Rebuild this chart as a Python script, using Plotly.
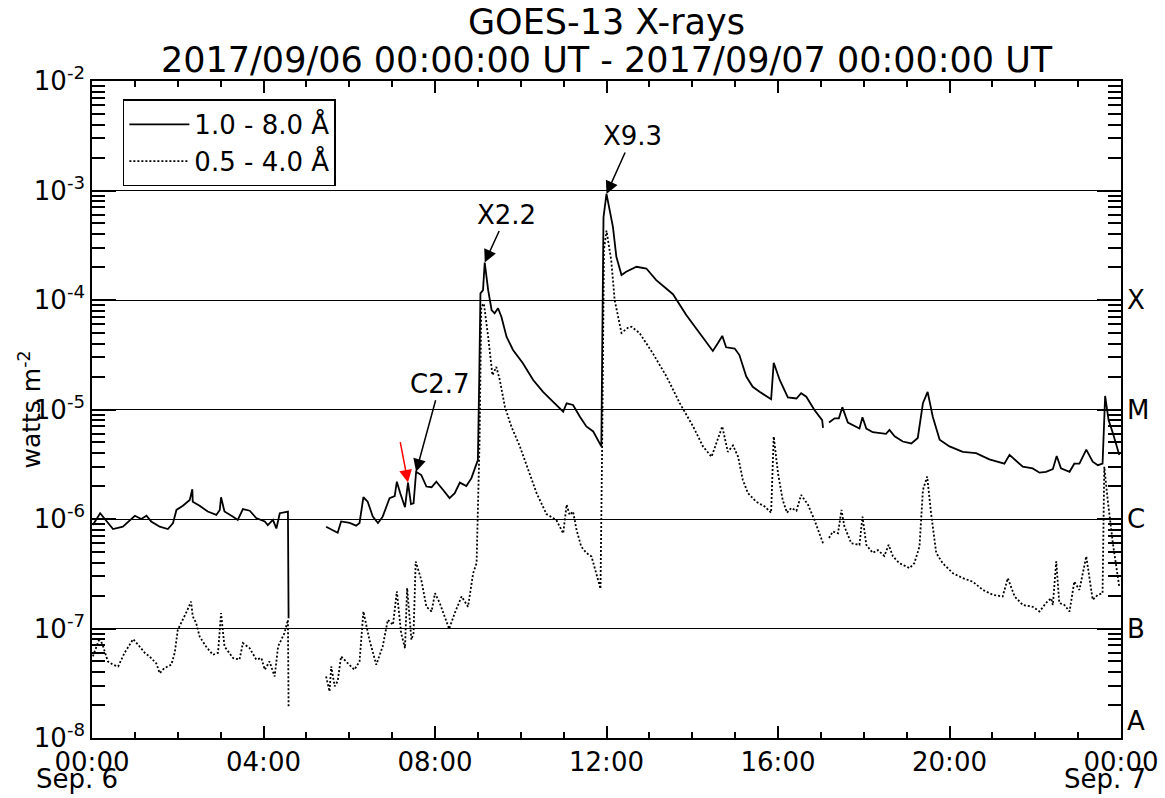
import numpy as np
import pandas as pd
import plotly.graph_objects as go

# ---------------- data (hours after 2017-09-06 00:00 UT, flux in W m^-2) ----------------
LONG_HOURS = [
    0.02, 0.19, 0.49, 0.72, 1.00, 1.15, 1.27, 1.38, 1.58, 1.77, 1.89, 1.97, 2.12, 2.28, 2.34, 2.35,
    2.51, 2.70, 2.90, 2.98, 3.01, 3.09, 3.29, 3.40, 3.52, 3.68, 3.83, 4.03, 4.10, 4.22, 4.30, 4.38,
    4.57, 4.585,
    5.00,
    5.46, 5.58, 5.73, 5.81, 6.01, 6.16, 6.24, 6.33, 6.43, 6.55, 6.67, 6.78, 6.94, 7.06, 7.11, 7.19,
    7.30, 7.37, 7.44, 7.50, 7.56, 7.68, 7.80, 7.92, 8.03, 8.19, 8.34, 8.46, 8.58, 8.73, 8.85, 8.93,
    9.00, 9.03, 9.06, 9.12, 9.16, 9.24, 9.32, 9.39, 9.47, 9.55, 9.67, 9.82, 10.05, 10.29, 10.52,
    10.75, 10.99, 11.07, 11.22, 11.38, 11.53, 11.69, 11.88, 11.90, 11.93, 12.00, 12.15, 12.23,
    12.35, 12.46, 12.70, 12.93, 13.16, 13.55, 13.86, 14.17, 14.48, 14.60, 14.70, 14.79, 14.99,
    15.10, 15.26, 15.41, 15.57, 15.84, 15.90, 16.04, 16.23, 16.43, 16.54, 16.66, 16.85, 17.03,
    17.05,
    17.12,
    17.19, 17.32, 17.42, 17.50, 17.63, 17.79, 17.90, 17.97, 18.06, 18.21, 18.41, 18.52, 18.60,
    18.72, 18.91, 19.11, 19.26, 19.38, 19.49, 19.61, 19.77, 20.00, 20.31, 20.62, 20.93, 21.28,
    21.40, 21.52, 21.71, 21.94, 22.10, 22.25, 22.41, 22.50, 22.60, 22.80, 22.91, 23.03, 23.19,
    23.34, 23.46, 23.57, 23.63, 23.71, 23.81, 23.96,
]
LONG_FLUX = [
    0.88e-6, 1.13e-6, 0.81e-6, 0.85e-6, 1.07e-6, 1.00e-6, 1.07e-6, 0.95e-6, 0.85e-6, 0.81e-6,
    0.92e-6, 1.21e-6, 1.32e-6, 1.49e-6, 1.87e-6, 1.44e-6, 1.32e-6, 1.17e-6, 1.09e-6, 1.21e-6,
    1.58e-6, 1.17e-6, 1.05e-6, 0.98e-6, 1.23e-6, 1.19e-6, 1.02e-6, 0.95e-6, 0.88e-6, 0.98e-6,
    0.82e-6, 1.13e-6, 1.17e-6, 1.24e-7,
    None,
    0.85e-6, 0.80e-6, 0.75e-6, 0.95e-6, 0.92e-6, 0.87e-6, 0.92e-6, 1.58e-6, 1.44e-6, 1.05e-6,
    0.92e-6, 1.05e-6, 1.55e-6, 1.62e-6, 2.19e-6, 1.72e-6, 1.28e-6, 2.15e-6, 1.37e-6, 1.39e-6,
    2.70e-6, 2.52e-6, 1.98e-6, 1.95e-6, 2.19e-6, 1.84e-6, 1.55e-6, 1.72e-6, 2.15e-6, 2.00e-6,
    2.36e-6, 2.90e-6, 3.46e-6, 1.73e-5, 1.15e-4, 1.23e-4, 2.20e-4, 1.23e-4, 0.81e-4, 0.755e-4,
    0.84e-4, 0.70e-4, 0.46e-4, 0.35e-4, 0.264e-4, 0.186e-4, 1.45e-5, 1.18e-5, 0.955e-5, 1.14e-5,
    1.10e-5, 0.86e-5, 0.70e-5, 0.63e-5, 0.46e-5, 0.35e-4, 5.7e-4, 9.3e-4, 4.66e-4, 2.48e-4,
    1.69e-4, 1.81e-4, 2.01e-4, 1.94e-4, 1.52e-4, 1.13e-4, 0.73e-4, 0.50e-4, 0.342e-4, 0.405e-4,
    0.47e-4, 0.37e-4, 0.36e-4, 0.314e-4, 0.20e-4, 0.161e-4, 1.45e-5, 1.24e-5, 2.67e-5, 1.86e-5,
    1.29e-5, 1.26e-5, 1.41e-5, 1.31e-5, 0.99e-5, 0.80e-5, 0.68e-5,
    None,
    0.76e-5, 0.83e-5, 0.83e-5, 1.05e-5, 0.76e-5, 0.70e-5, 0.67e-5, 0.85e-5, 0.67e-5, 0.62e-5,
    0.61e-5, 0.60e-5, 0.65e-5, 0.57e-5, 0.51e-5, 0.49e-5, 0.55e-5, 1.14e-5, 1.45e-5, 0.86e-5,
    0.53e-5, 0.46e-5, 0.41e-5, 0.40e-5, 0.35e-5, 0.32e-5, 0.385e-5, 0.347e-5, 0.30e-5, 0.29e-5,
    0.265e-5, 0.27e-5, 0.285e-5, 0.376e-5, 0.29e-5, 0.27e-5, 0.32e-5, 0.32e-5, 0.43e-5, 0.334e-5,
    0.31e-5, 0.32e-5, 1.33e-5, 0.80e-5, 0.61e-5, 0.385e-5,
]

SHORT_HOURS = [
    0.02, 0.18, 0.26, 0.37, 0.49, 0.61, 0.76, 0.96, 1.11, 1.23, 1.34, 1.50, 1.58, 1.69, 1.85, 1.93,
    2.00, 2.12, 2.21, 2.31, 2.35, 2.43, 2.51, 2.66, 2.82, 2.94, 3.01, 3.09, 3.29, 3.44, 3.52, 3.68,
    3.83, 3.95, 4.03, 4.14, 4.26, 4.34, 4.49, 4.57, 4.585,
    5.00,
    5.46, 5.54, 5.58, 5.66, 5.73, 5.81, 5.97, 6.12, 6.24, 6.33, 6.47, 6.63, 6.78, 6.90, 7.02, 7.11,
    7.21, 7.30, 7.35, 7.45, 7.50, 7.55, 7.68, 7.80, 7.92, 8.00, 8.11, 8.23, 8.33, 8.46, 8.62, 8.77,
    8.89, 8.97, 9.00, 9.04, 9.08, 9.14, 9.24, 9.34, 9.43, 9.51, 9.63, 9.78, 9.98, 10.13, 10.37,
    10.60, 10.83, 10.99, 11.07, 11.14, 11.22, 11.30, 11.41, 11.53, 11.65, 11.76, 11.86, 11.90,
    11.94, 12.00, 12.11, 12.19, 12.35, 12.49, 12.58, 12.77, 13.08, 13.40, 13.71, 14.02, 14.25,
    14.45, 14.60, 14.70, 14.83, 14.95, 15.07, 15.18, 15.30, 15.49, 15.69, 15.84, 15.90, 16.00,
    16.11, 16.21, 16.31, 16.43, 16.54, 16.70, 16.85, 16.97, 17.05,
    17.12,
    17.19, 17.28, 17.40, 17.48, 17.55, 17.71, 17.90, 17.97, 18.06, 18.21, 18.33, 18.48, 18.58,
    18.68, 18.83, 19.07, 19.18, 19.30, 19.38, 19.48, 19.57, 19.69, 19.84, 20.08, 20.31, 20.54,
    20.78, 21.01, 21.24, 21.36, 21.52, 21.71, 21.94, 22.10, 22.25, 22.37, 22.41, 22.49, 22.56,
    22.68, 22.80, 22.91, 23.03, 23.19, 23.34, 23.46, 23.57, 23.61, 23.69, 23.81, 23.96,
]
SHORT_FLUX = [
    0.556e-7, 0.82e-7, 0.685e-7, 0.50e-7, 0.467e-7, 0.45e-7, 0.60e-7, 0.80e-7, 0.685e-7, 0.60e-7,
    0.556e-7, 0.48e-7, 0.39e-7, 0.435e-7, 0.467e-7, 0.60e-7, 0.97e-7, 1.20e-7, 1.43e-7, 1.76e-7,
    1.29e-7, 1.12e-7, 0.845e-7, 0.685e-7, 0.575e-7, 0.60e-7, 1.38e-7, 0.685e-7, 0.537e-7, 0.52e-7,
    0.736e-7, 0.66e-7, 0.52e-7, 0.537e-7, 0.42e-7, 0.50e-7, 0.365e-7, 0.685e-7, 0.91e-7, 1.20e-7,
    0.194e-7,
    None,
    0.365e-7, 0.266e-7, 0.45e-7, 0.296e-7, 0.33e-7, 0.556e-7, 0.48e-7, 0.42e-7, 0.50e-7, 1.43e-7,
    0.79e-7, 0.467e-7, 0.685e-7, 1.20e-7, 1.08e-7, 2.18e-7, 0.91e-7, 0.66e-7, 2.34e-7, 0.79e-7,
    0.91e-7, 4.08e-7, 2.78e-7, 1.58e-7, 1.43e-7, 2.10e-7, 1.71e-7, 1.29e-7, 0.99e-7, 1.38e-7,
    1.96e-7, 1.58e-7, 3.20e-7, 3.95e-7, 1.30e-6, 0.53e-5, 0.87e-4, 0.93e-4, 0.46e-4, 0.206e-4,
    0.245e-4, 0.187e-4, 1.06e-5, 0.70e-5, 0.46e-5, 0.32e-5, 1.72e-6, 1.11e-6, 0.98e-6, 0.74e-6,
    1.35e-6, 1.09e-6, 1.17e-6, 0.80e-6, 0.56e-6, 0.49e-6, 0.454e-6, 0.32e-6, 2.30e-7, 0.53e-5,
    2.85e-4, 4.30e-4, 2.31e-4, 1.00e-4, 0.50e-4, 0.555e-4, 0.57e-4, 0.50e-4, 0.326e-4, 0.20e-4,
    1.14e-5, 0.70e-5, 0.46e-5, 0.37e-5, 0.53e-5, 0.70e-5, 0.41e-5, 0.47e-5, 0.37e-5, 0.227e-5,
    1.72e-6, 1.44e-6, 1.30e-6, 1.14e-6, 5.65e-6, 2.62e-6, 1.49e-6, 1.14e-6, 1.26e-6, 1.19e-6,
    1.66e-6, 1.35e-6, 0.98e-6, 0.74e-6, 0.60e-6,
    None,
    0.67e-6, 0.77e-6, 0.74e-6, 1.21e-6, 0.85e-6, 0.60e-6, 0.58e-6, 1.05e-6, 0.58e-6, 0.49e-6,
    0.52e-6, 0.46e-6, 0.58e-6, 0.456e-6, 0.395e-6, 0.356e-6, 0.395e-6, 0.56e-6, 1.84e-6, 2.44e-6,
    1.13e-6, 0.49e-6, 0.395e-6, 0.32e-6, 0.288e-6, 0.268e-6, 0.225e-6, 0.203e-6, 0.196e-6,
    0.288e-6, 0.196e-6, 1.64e-7, 1.58e-7, 1.43e-7, 1.71e-7, 1.89e-7, 1.64e-7, 4.10e-7, 1.71e-7,
    1.64e-7, 1.43e-7, 2.68e-7, 2.25e-7, 4.56e-7, 1.83e-7, 2.03e-7, 2.10e-7, 3.00e-6, 1.49e-6,
    0.60e-6, 0.24e-6,
]

CLASS_LABELS = ["A", "B", "C", "M", "X"]
CLASS_LEVELS = [1e-8, 1e-7, 1e-6, 1e-5, 1e-4]
Y_TICK_EXP = [-8, -7, -6, -5, -4, -3, -2]
X_TICK_HOURS = [0, 4, 8, 12, 16, 20, 24]
X_TICK_TEXT = ["00:00", "04:00", "08:00", "12:00", "16:00", "20:00", "00:00"]
DATE_LABELS = ["Sep. 6", "Sep. 7"]
TITLE_LINES = ["GOES-13 X-rays", "2017/09/06 00:00:00 UT - 2017/09/07 00:00:00 UT"]

# ---------------- build ----------------
BASE = pd.Timestamp("2017-09-06 00:00:00")


def to_time(hours):
    return [BASE + pd.Timedelta(hours=h) for h in hours]


t_long = to_time(LONG_HOURS)
t_short = to_time(SHORT_HOURS)

FONT = "DejaVu Sans"
fig = go.Figure()
fig.add_trace(go.Scatter(x=t_long, y=LONG_FLUX, mode="lines", name="1.0 - 8.0 Å",
                         line=dict(color="black", width=1.8), connectgaps=False))
fig.add_trace(go.Scatter(x=t_short, y=SHORT_FLUX, mode="lines", name="0.5 - 4.0 Å",
                         line=dict(color="black", width=1.8, dash="2px,2px"), connectgaps=False))

lh = np.array(LONG_HOURS)
lf = np.array([np.nan if v is None else v for v in LONG_FLUX])


def peak(h0, h1):
    m = (lh >= h0) & (lh <= h1)
    idx = np.where(m)[0][np.nanargmax(lf[m])]
    return BASE + pd.Timedelta(hours=float(lh[idx])), float(np.log10(lf[idx]))


annos = []
for label, (h0, h1), ax, ay in [("X9.3", (11.5, 12.5), 26, -58),
                                ("X2.2", (8.5, 10.0), 22, -48),
                                ("C2.7", (7.52, 7.60), 24, -88)]:
    px, py = peak(h0, h1)
    annos.append(dict(x=px, y=py, xref="x", yref="y", text=label, showarrow=True,
                      ax=ax, ay=ay, arrowhead=2, arrowsize=1.7, arrowwidth=1.5,
                      arrowcolor="black", font=dict(size=26, family=FONT, color="black")))
px, py = peak(7.33, 7.40)
annos.append(dict(x=px, y=py, xref="x", yref="y", text="", showarrow=True,
                  ax=-8, ay=-42, arrowhead=2, arrowsize=1.7, arrowwidth=1.5,
                  arrowcolor="red"))

for lab, lev in zip(CLASS_LABELS, CLASS_LEVELS):
    annos.append(dict(x=1, xref="paper", y=np.log10(lev), yref="y", text=lab,
                      showarrow=False, xanchor="left", xshift=4,
                      yanchor="bottom" if lab == "A" else "middle",
                      font=dict(size=26, family=FONT, color="black")))

# date labels under the first and last tick (box bottom kept inside the page)
for lab, xp, xs in zip(DATE_LABELS, [0, 1], [-15, -16]):
    annos.append(dict(x=xp, xref="paper", y=-0.0885, yref="paper", text=lab,
                      showarrow=False, xanchor="center", yanchor="bottom", xshift=xs,
                      height=30, valign="bottom",
                      font=dict(size=26, family=FONT, color="black")))

annos.append(dict(x=0, xref="paper", y=0.5, yref="paper", text="watts m<sup>-2</sup>",
                  textangle=-90, showarrow=False, xanchor="center", xshift=-62,
                  font=dict(size=25, family=FONT, color="black")))

# title lines
annos.append(dict(x=0.5, xref="paper", y=1.0893, yref="paper", text=TITLE_LINES[0],
                  showarrow=False, xanchor="center", yanchor="middle",
                  font=dict(size=35, family=FONT, color="black")))
annos.append(dict(x=0.5, xref="paper", y=1.0315, yref="paper", text=TITLE_LINES[1],
                  showarrow=False, xanchor="center", yanchor="middle",
                  font=dict(size=35, family=FONT, color="black")))

minor_y = [k * 10.0 ** e for e in range(-8, -2) for k in range(2, 10)]

fig.update_layout(
    width=1165, height=798,
    margin=dict(l=92, r=44, t=81, b=60, autoexpand=False),
    paper_bgcolor="white", plot_bgcolor="white",
    font=dict(family=FONT, size=26, color="black"),
    showlegend=True,
    legend=dict(x=0.03, y=0.972, xanchor="left", yanchor="top",
                bgcolor="white", bordercolor="black", borderwidth=1.5,
                font=dict(size=26, family=FONT, color="black"),
                itemwidth=60, tracegroupgap=0),
    annotations=annos,
)

fig.update_xaxes(
    type="date",
    automargin=False,
    range=[BASE, BASE + pd.Timedelta(hours=24)],
    tickmode="array",
    tickvals=to_time(X_TICK_HOURS),
    ticktext=X_TICK_TEXT,
    ticks="inside", ticklen=12, tickwidth=1.5, tickcolor="black",
    minor=dict(ticks="inside", ticklen=6, tickwidth=1.5, tickcolor="black",
               tickmode="array", tickvals=to_time([h for h in range(1, 24) if h % 4])),
    showline=True, linecolor="black", linewidth=1.5, mirror="ticks",
    showgrid=False, zeroline=False,
    tickfont=dict(size=26, family=FONT, color="black"),
    tickangle=0,
)

fig.update_yaxes(
    type="log",
    automargin=False,
    range=[-8, -2],
    tickmode="array",
    tickvals=[10.0 ** e for e in Y_TICK_EXP],
    ticktext=[f"10<sup>{e}</sup>" for e in Y_TICK_EXP],
    ticks="inside", ticklen=24, tickwidth=1.5, tickcolor="black",
    minor=dict(ticks="inside", ticklen=13, tickwidth=1.5, tickcolor="black",
               tickmode="array", tickvals=minor_y, showgrid=False),
    showline=True, linecolor="black", linewidth=1.5, mirror="ticks",
    showgrid=True, gridcolor="black", gridwidth=1,
    zeroline=False,
    tickfont=dict(size=26, family=FONT, color="black"),
)

fig.write_html(
    "out.html",
    config={"displayModeBar": False},
    post_script="document.body.style.margin='0px';document.body.style.padding='0px';",
)
